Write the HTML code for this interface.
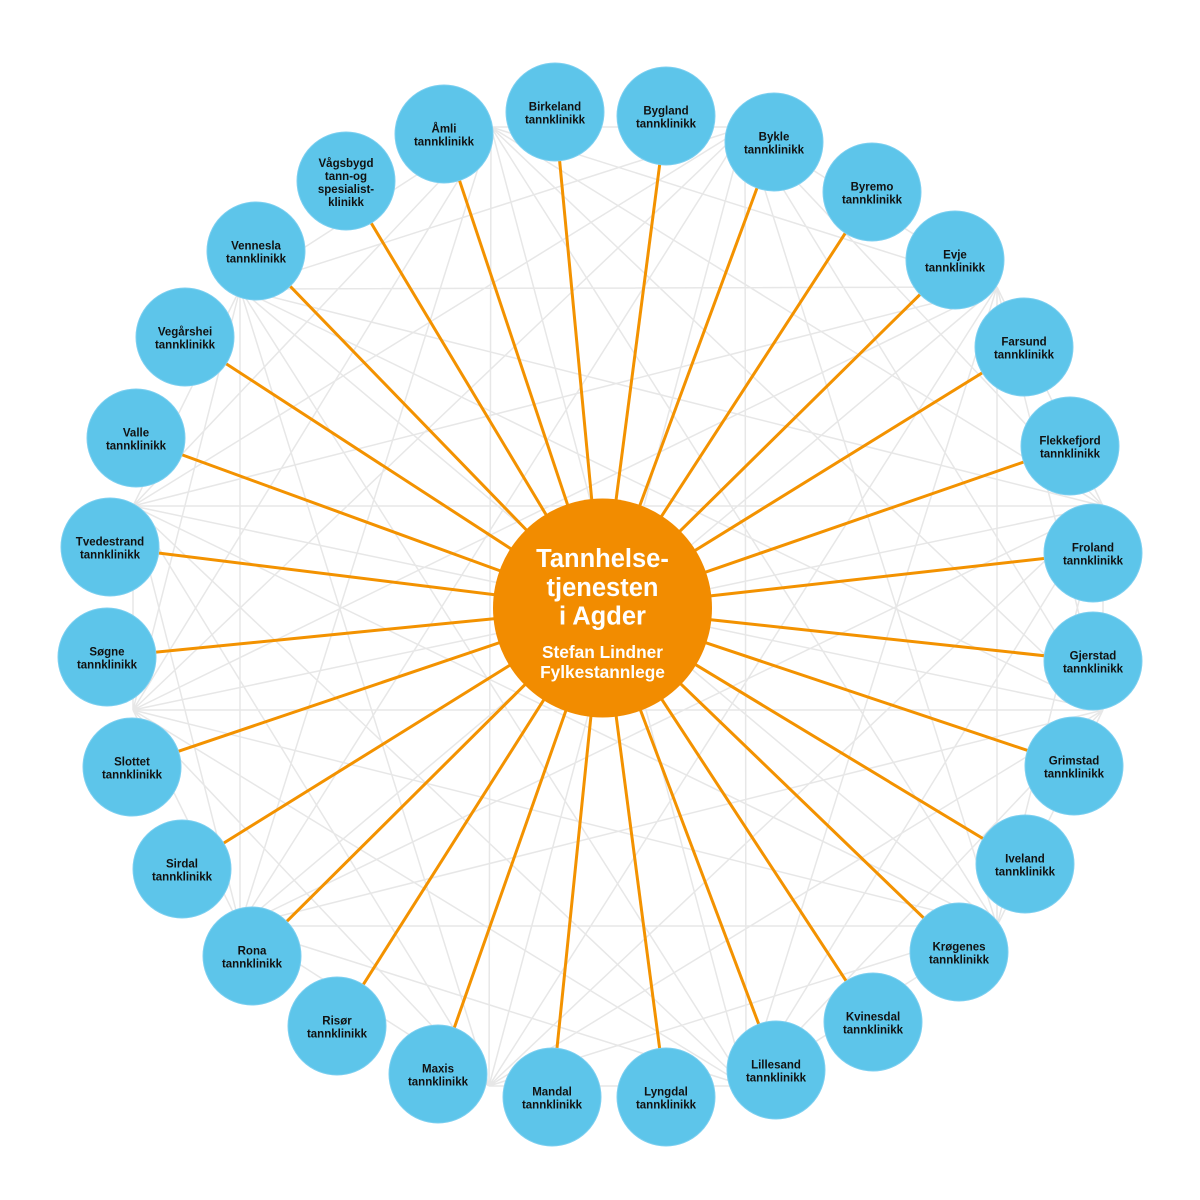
<!DOCTYPE html>
<html>
<head>
<meta charset="utf-8">
<style>
  html,body{margin:0;padding:0;background:#ffffff;}
  svg{display:block;}
  .n{font-family:"Liberation Sans",Arial,sans-serif;font-weight:bold;font-size:11.5px;fill:#111;text-anchor:middle;}
  .c1{font-family:"Liberation Sans",Arial,sans-serif;font-weight:bold;font-size:25.5px;fill:#fff;text-anchor:middle;}
  .c2{font-family:"Liberation Sans",Arial,sans-serif;font-weight:bold;font-size:17.3px;fill:#fff;text-anchor:middle;}
</style>
</head>
<body>
<svg width="1200" height="1200" viewBox="0 0 1200 1200" xmlns="http://www.w3.org/2000/svg">
  <rect width="1200" height="1200" fill="#ffffff"/>
  <!-- gray background web: complete graph of 12 hubs -->
  <path fill="none" stroke="#e7e7e7" stroke-width="1.5" d="
  M133,506L133,710 M133,506L1103,506 M133,506L1103,710 M133,506L240,289 M133,506L997,287 M133,506L240,926 M133,506L997,926 M133,506L491,127 M133,506L745,127 M133,506L489,1086 M133,506L746,1086
  M133,710L1103,506 M133,710L1103,710 M133,710L240,289 M133,710L997,287 M133,710L240,926 M133,710L997,926 M133,710L491,127 M133,710L745,127 M133,710L489,1086 M133,710L746,1086
  M1103,506L1103,710 M1103,506L240,289 M1103,506L997,287 M1103,506L240,926 M1103,506L997,926 M1103,506L491,127 M1103,506L745,127 M1103,506L489,1086 M1103,506L746,1086
  M1103,710L240,289 M1103,710L997,287 M1103,710L240,926 M1103,710L997,926 M1103,710L491,127 M1103,710L745,127 M1103,710L489,1086 M1103,710L746,1086
  M240,289L997,287 M240,289L240,926 M240,289L997,926 M240,289L491,127 M240,289L745,127 M240,289L489,1086 M240,289L746,1086
  M997,287L240,926 M997,287L997,926 M997,287L491,127 M997,287L745,127 M997,287L489,1086 M997,287L746,1086
  M240,926L997,926 M240,926L491,127 M240,926L745,127 M240,926L489,1086 M240,926L746,1086
  M997,926L491,127 M997,926L745,127 M997,926L489,1086 M997,926L746,1086
  M491,127L745,127 M491,127L489,1086 M491,127L746,1086
  M745,127L489,1086 M745,127L746,1086
  M489,1086L746,1086"/>

  <!-- orange spokes -->
  <g stroke="#f39200" stroke-width="3" fill="none">
    <line x1="602" y1="608" x2="555" y2="112"/>
    <line x1="602" y1="608" x2="666" y2="116"/>
    <line x1="602" y1="608" x2="774" y2="142"/>
    <line x1="602" y1="608" x2="872" y2="192"/>
    <line x1="602" y1="608" x2="955" y2="260"/>
    <line x1="602" y1="608" x2="1024" y2="347"/>
    <line x1="602" y1="608" x2="1070" y2="446"/>
    <line x1="602" y1="608" x2="1093" y2="553"/>
    <line x1="602" y1="608" x2="1093" y2="661"/>
    <line x1="602" y1="608" x2="1074" y2="766"/>
    <line x1="602" y1="608" x2="1025" y2="864"/>
    <line x1="602" y1="608" x2="959" y2="952"/>
    <line x1="602" y1="608" x2="873" y2="1022"/>
    <line x1="602" y1="608" x2="776" y2="1070"/>
    <line x1="602" y1="608" x2="666" y2="1097"/>
    <line x1="602" y1="608" x2="552" y2="1097"/>
    <line x1="602" y1="608" x2="438" y2="1074"/>
    <line x1="602" y1="608" x2="337" y2="1026"/>
    <line x1="602" y1="608" x2="252" y2="956"/>
    <line x1="602" y1="608" x2="182" y2="869"/>
    <line x1="602" y1="608" x2="132" y2="767"/>
    <line x1="602" y1="608" x2="107" y2="657"/>
    <line x1="602" y1="608" x2="110" y2="547"/>
    <line x1="602" y1="608" x2="136" y2="438"/>
    <line x1="602" y1="608" x2="185" y2="337"/>
    <line x1="602" y1="608" x2="256" y2="251"/>
    <line x1="602" y1="608" x2="346" y2="181"/>
    <line x1="602" y1="608" x2="444" y2="134"/>
  </g>

  <!-- center -->
  <circle cx="602.5" cy="608" r="109.5" fill="#f28c00"/>
  <text class="c1" x="602.5" y="567">Tannhelse-</text>
  <text class="c1" x="602.5" y="596">tjenesten</text>
  <text class="c1" x="602.5" y="624.5">i Agder</text>
  <text class="c2" x="602.5" y="658">Stefan Lindner</text>
  <text class="c2" x="602.5" y="678">Fylkestannlege</text>

  <!-- nodes -->
  <g fill="#5dc5ea" stroke="#7ccff0" stroke-width="1">
    <circle cx="555" cy="112" r="49"/>
    <circle cx="666" cy="116" r="49"/>
    <circle cx="774" cy="142" r="49"/>
    <circle cx="872" cy="192" r="49"/>
    <circle cx="955" cy="260" r="49"/>
    <circle cx="1024" cy="347" r="49"/>
    <circle cx="1070" cy="446" r="49"/>
    <circle cx="1093" cy="553" r="49"/>
    <circle cx="1093" cy="661" r="49"/>
    <circle cx="1074" cy="766" r="49"/>
    <circle cx="1025" cy="864" r="49"/>
    <circle cx="959" cy="952" r="49"/>
    <circle cx="873" cy="1022" r="49"/>
    <circle cx="776" cy="1070" r="49"/>
    <circle cx="666" cy="1097" r="49"/>
    <circle cx="552" cy="1097" r="49"/>
    <circle cx="438" cy="1074" r="49"/>
    <circle cx="337" cy="1026" r="49"/>
    <circle cx="252" cy="956" r="49"/>
    <circle cx="182" cy="869" r="49"/>
    <circle cx="132" cy="767" r="49"/>
    <circle cx="107" cy="657" r="49"/>
    <circle cx="110" cy="547" r="49"/>
    <circle cx="136" cy="438" r="49"/>
    <circle cx="185" cy="337" r="49"/>
    <circle cx="256" cy="251" r="49"/>
    <circle cx="346" cy="181" r="49"/>
    <circle cx="444" cy="134" r="49"/>
  </g>

  <g class="n">
    <text class="n" x="555" y="110.5">Birkeland</text><text class="n" x="555" y="123.3">tannklinikk</text>
    <text class="n" x="666" y="114.5">Bygland</text><text class="n" x="666" y="127.3">tannklinikk</text>
    <text class="n" x="774" y="140.5">Bykle</text><text class="n" x="774" y="153.3">tannklinikk</text>
    <text class="n" x="872" y="190.5">Byremo</text><text class="n" x="872" y="203.3">tannklinikk</text>
    <text class="n" x="955" y="258.5">Evje</text><text class="n" x="955" y="271.3">tannklinikk</text>
    <text class="n" x="1024" y="345.5">Farsund</text><text class="n" x="1024" y="358.3">tannklinikk</text>
    <text class="n" x="1070" y="444.5">Flekkefjord</text><text class="n" x="1070" y="457.3">tannklinikk</text>
    <text class="n" x="1093" y="551.5">Froland</text><text class="n" x="1093" y="564.3">tannklinikk</text>
    <text class="n" x="1093" y="659.5">Gjerstad</text><text class="n" x="1093" y="672.3">tannklinikk</text>
    <text class="n" x="1074" y="764.5">Grimstad</text><text class="n" x="1074" y="777.3">tannklinikk</text>
    <text class="n" x="1025" y="862.5">Iveland</text><text class="n" x="1025" y="875.3">tannklinikk</text>
    <text class="n" x="959" y="950.5">Krøgenes</text><text class="n" x="959" y="963.3">tannklinikk</text>
    <text class="n" x="873" y="1020.5">Kvinesdal</text><text class="n" x="873" y="1033.3">tannklinikk</text>
    <text class="n" x="776" y="1068.5">Lillesand</text><text class="n" x="776" y="1081.3">tannklinikk</text>
    <text class="n" x="666" y="1095.5">Lyngdal</text><text class="n" x="666" y="1108.3">tannklinikk</text>
    <text class="n" x="552" y="1095.5">Mandal</text><text class="n" x="552" y="1108.3">tannklinikk</text>
    <text class="n" x="438" y="1072.5">Maxis</text><text class="n" x="438" y="1085.3">tannklinikk</text>
    <text class="n" x="337" y="1024.5">Risør</text><text class="n" x="337" y="1037.3">tannklinikk</text>
    <text class="n" x="252" y="954.5">Rona</text><text class="n" x="252" y="967.3">tannklinikk</text>
    <text class="n" x="182" y="867.5">Sirdal</text><text class="n" x="182" y="880.3">tannklinikk</text>
    <text class="n" x="132" y="765.5">Slottet</text><text class="n" x="132" y="778.3">tannklinikk</text>
    <text class="n" x="107" y="655.5">Søgne</text><text class="n" x="107" y="668.3">tannklinikk</text>
    <text class="n" x="110" y="545.5">Tvedestrand</text><text class="n" x="110" y="558.3">tannklinikk</text>
    <text class="n" x="136" y="436.5">Valle</text><text class="n" x="136" y="449.3">tannklinikk</text>
    <text class="n" x="185" y="335.5">Vegårshei</text><text class="n" x="185" y="348.3">tannklinikk</text>
    <text class="n" x="256" y="249.5">Vennesla</text><text class="n" x="256" y="262.3">tannklinikk</text>
    <text class="n" x="346" y="167">Vågsbygd</text><text class="n" x="346" y="180">tann-og</text><text class="n" x="346" y="193">spesialist-</text><text class="n" x="346" y="206">klinikk</text>
    <text class="n" x="444" y="132.5">Åmli</text><text class="n" x="444" y="145.3">tannklinikk</text>
  </g>
</svg>
</body>
</html>
